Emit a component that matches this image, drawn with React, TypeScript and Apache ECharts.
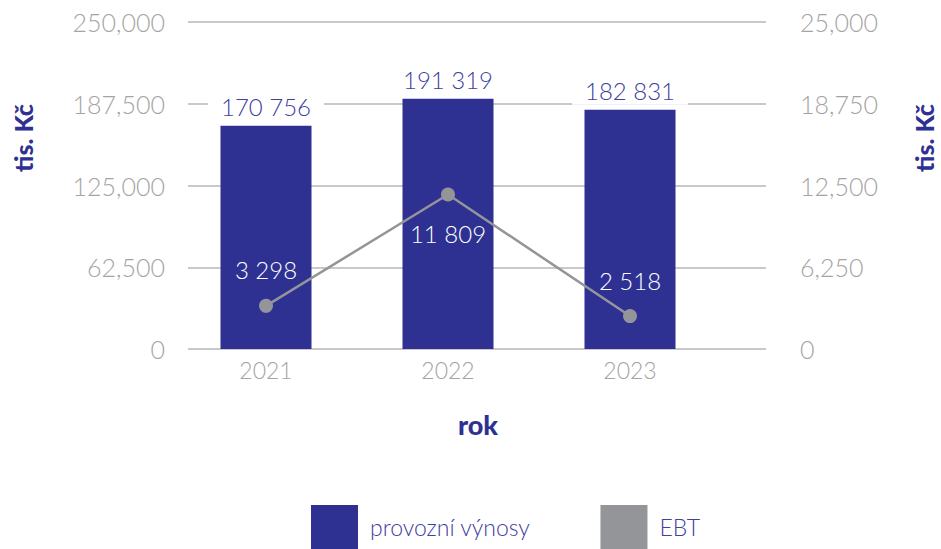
import React, { useEffect, useRef } from "react";
import * as echarts from "echarts";

const years = ["2021", "2022", "2023"];
const revenue = [170756, 191319, 182831];
const ebt = [3298, 11809, 2518];
const ebtLabelPos = ["top", "bottom", "top"];
const leftTicks = { min: 0, max: 250000, interval: 62500 };
const rightTicks = { min: 0, max: 25000, interval: 6250 };

const FONT = "Lato";
const NAVY = "#2e3192";
const GRAY = "#939598";
const TICK = "#a4a4a4";
const LABEL_BLUE = "#4040a0";

const comma = (v: number) => v.toLocaleString("en-US");
const spaced = (v: number) => String(v).replace(/\B(?=(\d{3})+(?!\d))/g, " ");

export default function App() {
  const ref = useRef<HTMLDivElement>(null);
  useEffect(() => {
    if (!ref.current) return;
    const chart = echarts.init(ref.current, null, { renderer: "svg" });
    const tickStyle = { fontFamily: FONT, fontWeight: 300, fontSize: 25, color: TICK };
    const nameStyle = {
      fontFamily: FONT,
      fontWeight: 900,
      fill: NAVY,
      textAlign: "center",
      textVerticalAlign: "middle",
    };
    chart.setOption({
      animation: false,
      textStyle: { fontFamily: FONT },
      grid: [
        { left: 188, width: 578, top: 22, height: 327 },
        { left: 175, width: 546, top: 22, height: 327 },
      ],
      xAxis: [
        { type: "category", gridIndex: 0, data: years, show: false },
        {
          type: "category",
          gridIndex: 1,
          data: years,
          axisLine: { show: false },
          axisTick: { show: false },
          axisLabel: { ...tickStyle, fontSize: 23, margin: 9 },
        },
      ],
      yAxis: [
        {
          type: "value",
          gridIndex: 0,
          position: "left",
          ...leftTicks,
          axisLine: { show: false },
          axisTick: { show: false },
          axisLabel: { ...tickStyle, margin: 23, formatter: comma },
          splitLine: { lineStyle: { color: "#c9c9c9", width: 2 } },
        },
        {
          type: "value",
          gridIndex: 0,
          position: "right",
          ...rightTicks,
          axisLine: { show: false },
          axisTick: { show: false },
          axisLabel: { ...tickStyle, margin: 34, formatter: comma },
          splitLine: { show: false },
        },
        { type: "value", gridIndex: 1, ...leftTicks, show: false, splitLine: { show: false } },
        { type: "value", gridIndex: 1, ...rightTicks, show: false, splitLine: { show: false } },
      ],
      legend: {
        left: 306,
        top: 500,
        icon: "rect",
        itemWidth: 47,
        itemHeight: 44,
        itemGap: 70,
        textStyle: {
          fontFamily: FONT,
          fontWeight: 300,
          fontSize: 23,
          color: LABEL_BLUE,
          padding: [0, 0, 0, 7],
        },
        data: ["provozní výnosy", "EBT"],
      },
      series: [
        {
          name: "provozní výnosy",
          type: "bar",
          xAxisIndex: 1,
          yAxisIndex: 2,
          data: revenue,
          barWidth: 91,
          itemStyle: { color: NAVY },
          label: {
            show: true,
            position: "top",
            distance: 5,
            formatter: (p: any) => spaced(p.value),
            fontFamily: FONT,
            fontWeight: 300,
            fontSize: 24,
            color: LABEL_BLUE,
            backgroundColor: "#ffffff",
            padding: [2, 13, 2, 13],
          },
        },
        {
          name: "EBT",
          type: "line",
          xAxisIndex: 1,
          yAxisIndex: 3,
          data: ebt.map((v, i) => ({
            value: v,
            label: { position: ebtLabelPos[i], distance: ebtLabelPos[i] === "top" ? 17 : 20 },
          })),
          symbol: "circle",
          symbolSize: 14,
          itemStyle: { color: GRAY },
          lineStyle: { color: GRAY, width: 2.5 },
          z: 5,
          label: {
            show: true,
            formatter: (p: any) => spaced(p.value),
            fontFamily: FONT,
            fontWeight: 300,
            fontSize: 24,
            color: "#ffffff",
          },
        },
      ],
      graphic: [
        {
          type: "text",
          x: 23,
          y: 138,
          rotation: Math.PI / 2,
          style: { ...nameStyle, text: "tis. Kč", fontSize: 25 },
        },
        {
          type: "text",
          x: 924,
          y: 138,
          rotation: Math.PI / 2,
          style: { ...nameStyle, text: "tis. Kč", fontSize: 25 },
        },
        {
          type: "text",
          x: 478,
          y: 424,
          style: { ...nameStyle, text: "rok", fontSize: 27 },
        },
      ],
    });
    return () => chart.dispose();
  }, []);
  return <div ref={ref} style={{ width: 941, height: 549, position: "absolute", left: 0, top: 0 }} />;
}
